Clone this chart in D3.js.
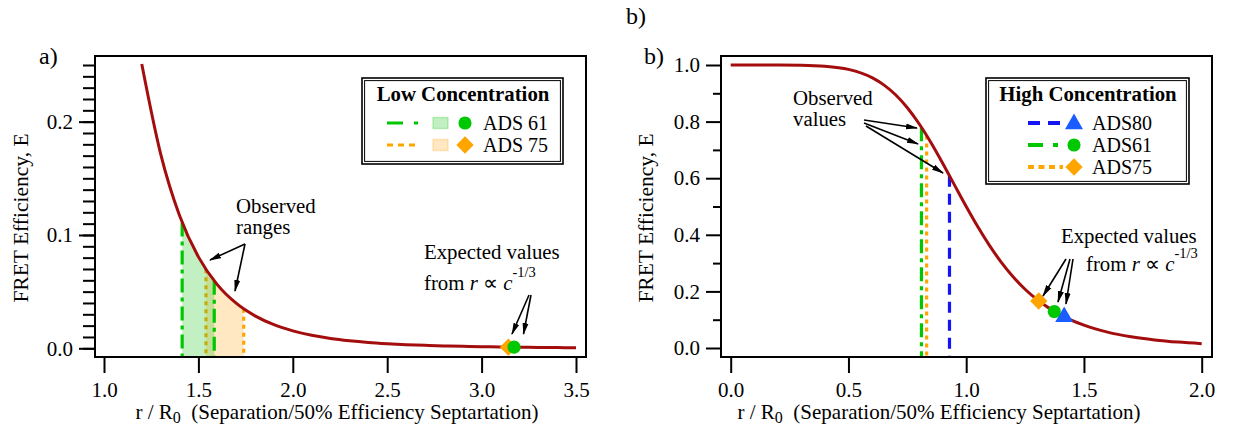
<!DOCTYPE html>
<html><head><meta charset="utf-8">
<script src="https://cdn.jsdelivr.net/npm/d3@7"></script>
<style>
body{margin:0;background:#fff;}
svg{display:block;}
svg text{font-family:"Liberation Serif","Times New Roman",Times,serif;fill:#000;}
</style></head><body>
<svg id="chart" width="1233" height="428"></svg>
<script>
// ---- data ----
// FRET efficiency curve, low-concentration panel (r/R0, E)
const lowR = [1.2,1.3,1.4,1.5,1.6,1.7,1.8,1.9,2.0,2.1,2.2,2.3,2.4,2.5,2.6,2.7,2.8,2.9,3.0,3.1,3.2,3.3,3.4,3.5];
const lowE = [0.2509,0.1716,0.1172,0.0807,0.0562,0.0398,0.0286,0.0208,0.0154,0.0115,0.0087,0.0067,0.0052,0.0041,0.0032,0.0026,0.0021,0.0017,0.0014,0.0011,0.0009,0.0008,0.0006,0.0005];
// FRET efficiency curve, high-concentration panel
const highR = [0.0,0.1,0.2,0.3,0.4,0.5,0.6,0.65,0.7,0.75,0.8,0.85,0.9,0.95,1.0,1.05,1.1,1.15,1.2,1.25,1.3,1.35,1.4,1.5,1.6,1.7,1.8,1.9,2.0];
const highE = [1.000,1.000,1.000,0.9993,0.9959,0.9846,0.9554,0.9299,0.8947,0.8489,0.7923,0.7262,0.6530,0.5763,0.5000,0.4273,0.3608,0.3018,0.2509,0.2077,0.1716,0.1418,0.1172,0.0807,0.0562,0.0398,0.0286,0.0208,0.0154];

// Low concentration: observed ranges and expected values
const lowSeries = ["ADS 75","ADS 61"];
const lowRangeStart = [1.540, 1.414];
const lowRangeEnd = [1.740, 1.584];
const lowRangeStartE = [0.0698, 0.1110];
const lowRangeEndE = [0.0348, 0.0596];
const lowExpectedR = [3.142, 3.172];
const lowExpectedE = [0.001, 0.001];

// High concentration: observed and expected values
const highSeries = ["ADS80","ADS61","ADS75"];
const highObservedR = [0.929, 0.810, 0.832];
const highObservedE = [0.609, 0.780, 0.751];
const highExpectedR = [1.416, 1.374, 1.308];
const highExpectedE = [0.110, 0.129, 0.166];

// Tick labels
const lowXTicks = [1.0,1.5,2.0,2.5,3.0,3.5];
const lowYTicks = [0.0,0.1,0.2];
const highXTicks = [0.0,0.5,1.0,1.5,2.0];
const highYTicks = [0.0,0.2,0.4,0.6,0.8,1.0];

// ---- styles ----
const diamond = {draw(ctx, size) { // square turned 45 degrees
  const h = Math.sqrt(size / 2);
  ctx.moveTo(0,-h); ctx.lineTo(h,0); ctx.lineTo(0,h); ctx.lineTo(-h,0); ctx.closePath();
}};
const style = {
  "ADS 61": {color:"#00c800", fill:"rgba(40,200,40,0.28)", dash:"14,5,4,5", sym:d3.symbolCircle},
  "ADS 75": {color:"#ffa500", fill:"rgba(255,170,30,0.27)", dash:"4,4", sym:diamond},
  "ADS80": {color:"#1414f5", mark:"#1a5cff", dash:"11,7", sym:d3.symbolTriangle},
  "ADS61": {color:"#00c800", mark:"#00c800", dash:"14,5,4,5", sym:d3.symbolCircle},
  "ADS75": {color:"#ffa500", mark:"#ffa500", dash:"4,4", sym:diamond}
};
const symSize = s => s===diamond ? 150 : (s===d3.symbolTriangle ? 140 : 135);
const curveColor = "#a30d0d";
const FS = 21;      // axis text
const AFS = 20.8;   // annotation text
const LFS = 20;     // legend entries
const ROW = 22;     // legend row spacing

const svg = d3.select("#chart");
const defs = svg.append("defs");
defs.append("marker").attr("id","arrow")
  .attr("viewBox","0 0 12 8").attr("refX",11).attr("refY",4)
  .attr("markerWidth",12).attr("markerHeight",8)
  .attr("markerUnits","userSpaceOnUse").attr("orient","auto")
  .append("path").attr("d","M0,1 L12,4 L0,7 Z").attr("fill","#000");

function styleAxis(a) {
  a.attr("font-family",null).attr("font-size",null);
  a.select(".domain").remove();
  a.selectAll("line").attr("stroke","#000").attr("stroke-width",2);
  a.selectAll("text").attr("font-size",FS).attr("fill","#000");
}

function frameAndAxes(g, x, y, frame, xTicks, yTicks, yMinor, majorLen, minorLen) {
  g.append("g").attr("transform",`translate(${frame.left},0)`)
    .call(d3.axisLeft(y).tickValues(yMinor).tickSize(minorLen).tickFormat(""))
    .call(styleAxis);
  g.append("g").attr("transform",`translate(${frame.left},0)`)
    .call(d3.axisLeft(y).tickValues(yTicks).tickSize(majorLen).tickPadding(6).tickFormat(d3.format(".1f")))
    .call(styleAxis);
  g.append("g").attr("transform",`translate(0,${frame.bottom})`)
    .call(d3.axisBottom(x).tickValues(xTicks).tickSize(16).tickPadding(9).tickFormat(d3.format(".1f")))
    .call(styleAxis);
  g.append("rect").attr("x",frame.left).attr("y",frame.top)
    .attr("width",frame.right-frame.left).attr("height",frame.bottom-frame.top)
    .attr("fill","none").attr("stroke","#000").attr("stroke-width",2);
}

function axisTitles(g, cx, cy, yx, yy) {
  const t = g.append("text").attr("x",cx).attr("y",cy).attr("text-anchor","middle")
    .attr("font-size",FS).attr("xml:space","preserve").text("r / R");
  t.append("tspan").attr("font-size",16).attr("dy",4).text("0");
  t.append("tspan").attr("dy",-4).text("  (Separation/50% Efficiency Septartation)");
  g.append("text").attr("transform",`translate(${yx},${yy}) rotate(-90)`)
    .attr("text-anchor","middle").attr("font-size",21.5).text("FRET Efficiency, E");
}

function expectedText(g, x, y1, y2, x2) {
  g.append("text").attr("x",x).attr("y",y1).attr("font-size",AFS).text("Expected values");
  const t = g.append("text").attr("x",x2).attr("y",y2).attr("font-size",AFS).text("from ");
  t.append("tspan").attr("font-style","italic").text("r");
  t.append("tspan").text(" \u221D ");
  t.append("tspan").attr("font-style","italic").text("c");
  t.append("tspan").attr("dy",-13).attr("font-size",14.5).text("-1/3");
}

function arrow(g, x1, y1, x2, y2) {
  g.append("line").attr("x1",x1).attr("y1",y1).attr("x2",x2).attr("y2",y2)
    .attr("stroke","#000").attr("stroke-width",1.6).attr("marker-end","url(#arrow)");
}

function legendBox(g, b) {
  g.append("rect").attr("x",b.x).attr("y",b.y).attr("width",b.w).attr("height",b.h)
    .attr("fill","#fff").attr("stroke","#000").attr("stroke-width",1.6);
  g.append("rect").attr("x",b.x+2.6).attr("y",b.y+2.6).attr("width",b.w-5.2).attr("height",b.h-5.2)
    .attr("fill","none").attr("stroke","#000").attr("stroke-width",1);
}

// ================= Panel a: low concentration =================
const fL = {left:95, right:586, top:56, bottom:357};
const xL = d3.scaleLinear().domain([1.0,3.5]).range([104,576]);
const yL = d3.scaleLinear().domain([0,0.25]).range([348.3,65]);
const gL = svg.append("g");

const lowPts = lowR.map((r,i)=>[r,lowE[i]]);
const areaL = d3.area().x(d=>xL(d[0])).y0(fL.bottom).y1(d=>yL(d[1])).curve(d3.curveMonotoneX);
const lineL = d3.line().x(d=>xL(d[0])).y(d=>yL(d[1])).curve(d3.curveMonotoneX);

lowSeries.forEach((s,i) => {
  const st = style[s];
  const id = "clipL"+i;
  defs.append("clipPath").attr("id",id).append("rect")
    .attr("x",xL(lowRangeStart[i])).attr("y",fL.top)
    .attr("width",xL(lowRangeEnd[i])-xL(lowRangeStart[i])).attr("height",fL.bottom-fL.top);
  gL.append("path").attr("d",areaL(lowPts)).attr("fill",st.fill).attr("clip-path",`url(#${id})`);
  [[lowRangeStart[i],lowRangeStartE[i]],[lowRangeEnd[i],lowRangeEndE[i]]].forEach(([r,e]) => {
    gL.append("line").attr("x1",xL(r)).attr("x2",xL(r)).attr("y1",yL(e)).attr("y2",fL.bottom-1)
      .attr("stroke",st.color).attr("stroke-width",3.2).attr("stroke-dasharray",st.dash);
  });
});

gL.append("path").attr("d",lineL(lowPts)).attr("fill","none")
  .attr("stroke",curveColor).attr("stroke-width",3);

lowSeries.forEach((s,i) => {
  const st = style[s];
  gL.append("path").attr("transform",`translate(${xL(lowExpectedR[i])},${yL(lowExpectedE[i])})`)
    .attr("d",d3.symbol().type(st.sym).size(symSize(st.sym))())
    .attr("fill",st.color);
});

frameAndAxes(gL, xL, yL, fL, lowXTicks, lowYTicks, d3.range(0,0.2501,0.01), 16, 12);
axisTitles(gL, 337, 419, 28, 218);
gL.append("text").attr("x",39).attr("y",64).attr("font-size",24).text("a)");

// annotations
gL.append("text").attr("x",236).attr("y",213).attr("font-size",AFS).text("Observed");
gL.append("text").attr("x",236).attr("y",234).attr("font-size",AFS).text("ranges");
arrow(gL, 245, 244, 210, 260);
arrow(gL, 245, 244, 235, 291);
expectedText(gL, 424, 259, 290, 424);
arrow(gL, 529, 295, 512, 334);
arrow(gL, 531, 295, 523.5, 334);

// legend
legendBox(gL, {x:362, y:78, w:201, h:86});
gL.append("text").attr("x",463).attr("y",101).attr("text-anchor","middle")
  .attr("font-size",20.8).attr("font-weight","bold").text("Low Concentration");
["ADS 61","ADS 75"].forEach((s,i) => {
  const st = style[s], cy = 123 + i*ROW;
  gL.append("line").attr("x1",387).attr("x2",419).attr("y1",cy).attr("y2",cy)
    .attr("stroke",st.color).attr("stroke-width",3.2)
    .attr("stroke-dasharray", s==="ADS 61" ? "16,11,4,20" : "6,5");
  gL.append("rect").attr("x",433).attr("y",cy-5.5).attr("width",15).attr("height",11)
    .attr("fill",st.fill).attr("stroke",st.fill).attr("stroke-width",1.5);
  gL.append("path").attr("transform",`translate(465,${cy})`)
    .attr("d",d3.symbol().type(st.sym).size(symSize(st.sym))())
    .attr("fill",st.color);
  gL.append("text").attr("x",483).attr("y",cy+7).attr("font-size",LFS).text(s);
});

// ================= Panel b: high concentration =================
const fH = {left:721, right:1212, top:56, bottom:357};
const xH = d3.scaleLinear().domain([0,2]).range([730.7,1201.7]);
const yH = d3.scaleLinear().domain([0,1]).range([348,65]);
const gH = svg.append("g");

const highPts = highR.map((r,i)=>[r,highE[i]]);
const lineH = d3.line().x(d=>xH(d[0])).y(d=>yH(d[1])).curve(d3.curveMonotoneX);

highSeries.forEach((s,i) => {
  const st = style[s];
  gH.append("line").attr("x1",xH(highObservedR[i])).attr("x2",xH(highObservedR[i]))
    .attr("y1",yH(highObservedE[i])).attr("y2",fH.bottom-1)
    .attr("stroke",st.color).attr("stroke-width",3.2).attr("stroke-dasharray",st.dash);
});

gH.append("path").attr("d",lineH(highPts)).attr("fill","none")
  .attr("stroke",curveColor).attr("stroke-width",3);

highSeries.forEach((s,i) => {
  const st = style[s];
  gH.append("path").attr("transform",`translate(${xH(highExpectedR[i])},${yH(highExpectedE[i])})`)
    .attr("d",d3.symbol().type(st.sym).size(symSize(st.sym))()).attr("fill",st.mark);
});

frameAndAxes(gH, xH, yH, fH, highXTicks, highYTicks, [0.1,0.3,0.5,0.7,0.9], 15, 8);
axisTitles(gH, 939, 419, 653, 218);
gH.append("text").attr("x",644).attr("y",64).attr("font-size",24).text("b)");
svg.append("text").attr("x",626).attr("y",24).attr("font-size",24).text("b)");

gH.append("text").attr("x",793).attr("y",105).attr("font-size",AFS).text("Observed");
gH.append("text").attr("x",793).attr("y",126).attr("font-size",AFS).text("values");
arrow(gH, 864, 120, 917, 128);
arrow(gH, 864, 123, 918, 144);
arrow(gH, 866, 126, 943, 173);
expectedText(gH, 1061, 243, 271, 1086);
arrow(gH, 1066, 259, 1043, 296);
arrow(gH, 1070, 259, 1058, 302);
arrow(gH, 1073, 259, 1066, 304);

legendBox(gH, {x:986, y:78, w:203, h:106});
gH.append("text").attr("x",1088).attr("y",101).attr("text-anchor","middle")
  .attr("font-size",20.8).attr("font-weight","bold").text("High Concentration");
highSeries.forEach((s,i) => {
  const st = style[s], cy = 123 + i*ROW;
  gH.append("line").attr("x1",1028).attr("x2",1063).attr("y1",cy).attr("y2",cy)
    .attr("stroke",st.color).attr("stroke-width",4)
    .attr("stroke-dasharray", s==="ADS80" ? "12,8" : (s==="ADS61" ? "15,10,5,20" : "6,4.5"));
  gH.append("path").attr("transform",`translate(1074,${cy + (st.sym===d3.symbolTriangle?1:0)})`)
    .attr("d",d3.symbol().type(st.sym).size(symSize(st.sym))()).attr("fill",st.mark);
  gH.append("text").attr("x",1092).attr("y",cy+7).attr("font-size",LFS).text(s);
});
</script>
</body></html>
